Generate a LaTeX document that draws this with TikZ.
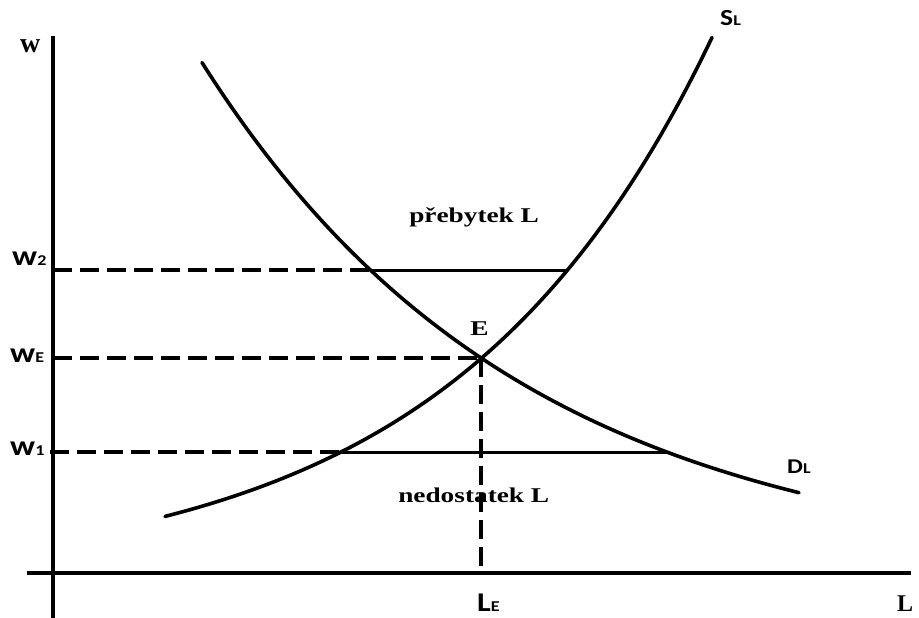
\documentclass[tikz,border=0pt]{standalone}
\usepackage{fontspec}
\setmainfont{Liberation Serif}
\newfontfamily\calib{Carlito}
\begin{document}
\begin{tikzpicture}[x=1pt,y=-1pt,
  axisline/.style={line width=3.8pt},
  curveline/.style={line width=3.6pt, line cap=round},
  levelline/.style={line width=3pt},
  guide/.style={line width=3.6pt, dash pattern=on 19pt off 8pt},
  serifbig/.style={inner sep=0pt, anchor=base west, font=\bfseries\fontsize{21}{21}\selectfont, xscale=1.3},
  sanslabel/.style={inner sep=0pt, anchor=base west, font=\calib\bfseries, xscale=1.2}]
\useasboundingbox (0,0) rectangle (919,618);
% axes
\coordinate (ytop) at (53,36);
\coordinate (ybot) at (53,618);
\coordinate (xleft) at (27,573);
\coordinate (xright) at (911,573);
\draw[axisline] (ytop) -- (ybot);
\draw[axisline] (xleft) -- (xright);
% key points (on the curves)
\coordinate (E) at (481,358);
\coordinate (LEax) at (481,573);
\coordinate (w2ax) at (53,270);
\coordinate (wEax) at (53,358);
\coordinate (w1ax) at (50,452);
\coordinate (D2) at (370,270);
\coordinate (S2) at (567,270);
\coordinate (S1) at (340,452);
\coordinate (D1) at (666,452);
% guides
\draw[guide] (w2ax) -- (D2);
\draw[guide] (wEax) -- (E);
\draw[guide] (w1ax) -- (S1);
\draw[guide] (E) -- (LEax);
% level lines
\draw[levelline] (D2) -- (S2);
\draw[levelline] (S1) -- (D1);
% curves
\draw[curveline] plot[domain=165:712, samples=150] (\x,{583-exp(3.564+0.00385*\x)});
\draw[curveline] plot[domain=202:799, samples=150] (\x,{573-exp(6.861-0.0031*\x)});
% serif labels
\node[inner sep=0pt, anchor=base west, font=\bfseries\fontsize{28}{28}\selectfont] (lw) at (20,53) {w};
\node[serifbig, xscale=1.0] (lE) at (470,335) {E};
\node[serifbig] (lsur) at (409,222) {přebytek L};
\node[serifbig] (lshort) at (398,502) {nedostatek L};
\node[inner sep=0pt, anchor=base west, font=\bfseries\fontsize{24}{24}\selectfont] (lL) at (897,611) {L};
% sans labels
\node[sanslabel] (lw2) at (12,265) {\fontsize{28}{28}\selectfont w\fontsize{15}{15}\selectfont 2};
\node[sanslabel] (lwE) at (10,362) {\fontsize{28}{28}\selectfont w\fontsize{15}{15}\selectfont E};
\node[sanslabel] (lw1) at (10,455) {\fontsize{28}{28}\selectfont w\fontsize{15}{15}\selectfont 1};
\node[sanslabel] (lSL) at (720,26) {\fontsize{23}{23}\selectfont S\fontsize{15}{15}\selectfont L};
\node[sanslabel] (lDL) at (787,473) {\fontsize{21}{21}\selectfont D\fontsize{15}{15}\selectfont L};
\node[sanslabel] (lLE) at (477,611) {\fontsize{27}{27}\selectfont L\fontsize{15}{15}\selectfont E};
\end{tikzpicture}
\end{document}
